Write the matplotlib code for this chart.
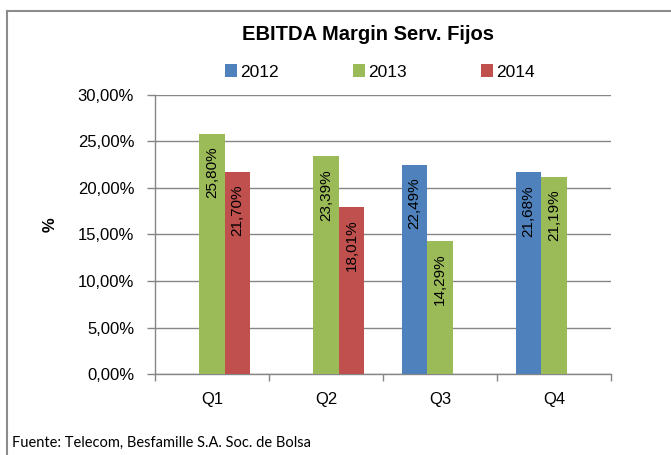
import numpy as np
import matplotlib
matplotlib.use("Agg")
import matplotlib.pyplot as plt
from matplotlib.patches import Patch
from matplotlib.lines import Line2D

# ======================================
# DATA
# ======================================

quarters = ["Q1", "Q2", "Q3", "Q4"]
years = ["2012", "2013", "2014"]

margin_2012 = [np.nan, np.nan, 22.49, 21.68]
margin_2013 = [25.80, 23.39, 14.29, 21.19]
margin_2014 = [21.70, 18.01, np.nan, np.nan]

colors = ["#4F81BD", "#9BBB59", "#C0504D"]
yticks = [0, 5, 10, 15, 20, 25, 30]

title = "EBITDA Margin Serv. Fijos"
source = "Fuente: Telecom, Besfamille S.A. Soc. de Bolsa"

# ======================================
# FIGURE
# ======================================

plt.rcParams["font.family"] = ["Liberation Sans", "DejaVu Sans"]

W, H = 671, 455
fig = plt.figure(figsize=(W / 100, H / 100), dpi=100)
ax = fig.add_axes([155 / W, 1 - 374 / H, (611 - 155) / W, (374 - 95) / H])

grid_col = "#868686"
series = [margin_2012, margin_2013, margin_2014]
x = np.arange(len(quarters))
width = 0.224

for i, (vals, col) in enumerate(zip(series, colors)):
    pos = x + (i - 1) * width
    bars = ax.bar(pos, vals, width, color=col, zorder=3)
    for b, v in zip(bars, vals):
        if np.isnan(v):
            continue
        ax.annotate(
            f"{v:.2f}%".replace(".", ","),
            (b.get_x() + b.get_width() / 2, v),
            xytext=(0, -9), textcoords="offset points",
            rotation=90, ha="center", va="top", fontsize=11, zorder=4
        )

ax.set_xlim(-0.5, 3.5)
ax.set_ylim(0, 30)
ax.set_yticks(yticks)
ax.set_yticklabels([f"{t:.2f}%".replace(".", ",") for t in yticks], fontsize=12)
ax.yaxis.grid(True, color=grid_col, linewidth=1, zorder=0)

ax.set_xticks(np.arange(-0.5, 4, 1))
ax.set_xticklabels([])
ax.set_xticks(x, minor=True)
ax.set_xticklabels(quarters, minor=True, fontsize=12)
ax.tick_params(axis="x", which="minor", length=0, pad=13)
ax.tick_params(axis="x", which="major", length=5, color=grid_col, width=1)
ax.tick_params(axis="y", length=6, color=grid_col, width=1, pad=9)

for s in ["top", "right"]:
    ax.spines[s].set_visible(False)
for s in ["left", "bottom"]:
    ax.spines[s].set_color(grid_col)
    ax.spines[s].set_linewidth(1)

fig.text(50 / W, 1 - 225 / H, "%", rotation=90, ha="center", va="center",
         fontsize=12, fontweight="bold")

fig.text(368 / W, 1 - 35 / H, title, ha="center", va="center",
         fontsize=14.5, fontweight="bold")

handles = [Patch(facecolor=c, edgecolor="none") for c in colors]
fig.legend(handles, years, loc="center", ncol=3,
           bbox_to_anchor=(380 / W, 1 - 72 / H), frameon=False,
           fontsize=12.5, handlelength=0.7, handleheight=0.7,
           handletextpad=0.15, columnspacing=4.3)

fig.text(12 / W, 1 - 443 / H, source, ha="left", va="center",
         fontsize=10.5, family=["Lato", "DejaVu Sans"])

# outer frame (left and top edges)
fig.add_artist(Line2D([6.5 / W, 6.5 / W], [0, 1 - 11 / H],
                      color="#8C8C8C", linewidth=1.5))
fig.add_artist(Line2D([6.5 / W, 1], [1 - 11 / H, 1 - 11 / H],
                      color="#8C8C8C", linewidth=1.5))

fig.savefig("out.png", dpi=100)
